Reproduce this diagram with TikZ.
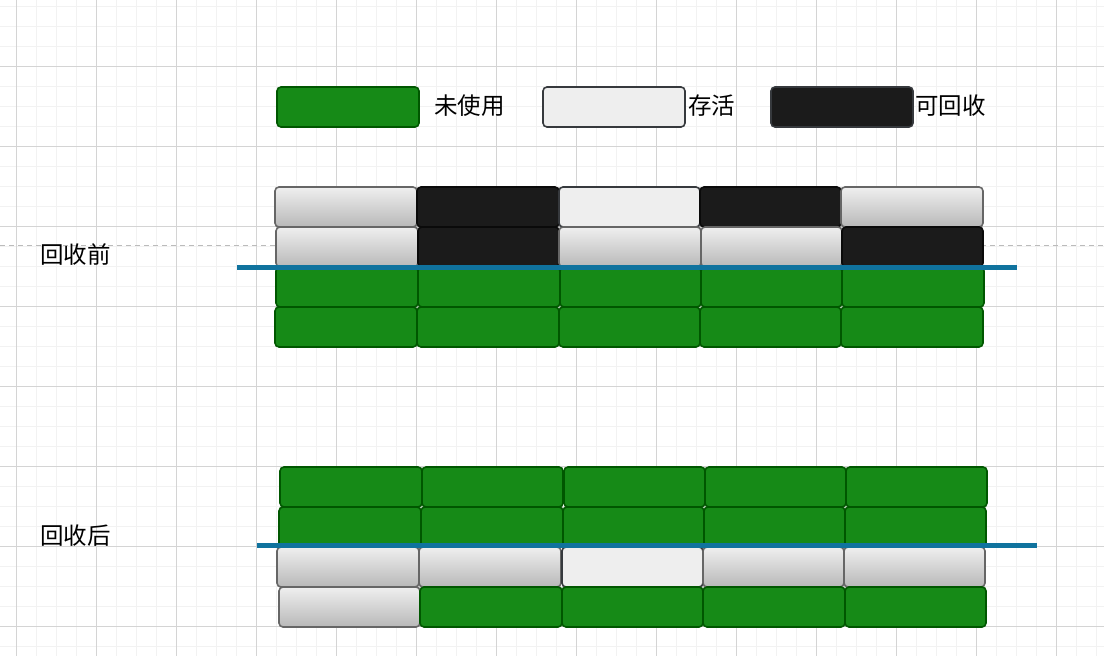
\documentclass[tikz,border=0pt]{standalone}
\usepackage{fontspec}
\setmainfont{Noto Sans CJK SC}
\definecolor{gfill}{HTML}{168A17}
\definecolor{gline}{HTML}{005700}
\definecolor{kfill}{HTML}{1B1B1B}
\definecolor{kline}{HTML}{0A0A0A}
\definecolor{lfill}{HTML}{EEEEEE}
\definecolor{lline}{HTML}{36393D}
\definecolor{gtop}{HTML}{EFEFEF}
\definecolor{gbot}{HTML}{B8B8B8}
\definecolor{gradline}{HTML}{666666}
\definecolor{blueline}{HTML}{10739E}
\definecolor{minorgrid}{HTML}{F2F2F2}
\definecolor{majorgrid}{HTML}{D4D4D4}
\definecolor{dashgrey}{HTML}{BBBBBB}
\tikzset{
  cell/.style={rectangle, rounded corners=4pt, line width=1.6pt, anchor=north west, minimum height=40pt, inner sep=0pt, outer sep=0pt},
  greenbox/.style={cell, fill=gfill, draw=gline},
  blackbox/.style={cell, fill=kfill, draw=kline},
  lightbox/.style={cell, fill=lfill, draw=lline},
  gradbox/.style={cell, top color=gtop, bottom color=gbot, draw=gradline},
  lbl/.style={font=\fontsize{23.5}{28}\selectfont, anchor=west, inner sep=0pt},
  sepline/.style={draw=blueline, line width=5pt},
  dashline/.style={draw=dashgrey, line width=1pt, dash pattern=on 5pt off 4pt},
}
\begin{document}
\begin{tikzpicture}[x=1pt,y=-1pt]
\useasboundingbox (0,0) rectangle (1104,656);
\fill[white] (0,0) rectangle (1104,656);
% grid
\foreach \x in {-4,16,...,1104} \draw[minorgrid, line width=0.8pt] (\x,0) -- (\x,656);
\foreach \y in {6,26,...,656} \draw[minorgrid, line width=0.8pt] (0,\y) -- (1104,\y);
\foreach \x in {16,96,...,1104} \draw[majorgrid, line width=0.8pt] (\x,0) -- (\x,656);
\foreach \y in {66,146,...,656} \draw[majorgrid, line width=0.8pt] (0,\y) -- (1104,\y);
% dashed line
\coordinate (dA) at (0,245);
\coordinate (dB) at (1104,245);
\draw[dashline] (dA) -- (dB);
% legend
\node[greenbox, minimum width=142pt] (legG) at (277,87) {};
\node[lbl] (legGt) at (434,106) {未使用};
\node[lightbox, minimum width=142pt] (legL) at (543,87) {};
\node[lbl] (legLt) at (688,106) {存活};
\node[blackbox, minimum width=142pt, draw=lline] (legK) at (771,87) {};
\node[lbl] (legKt) at (915,106) {可回收};
% labels
\node[lbl] (before) at (40,255) {回收前};
\node[lbl] (after) at (40,536) {回收后};
% top section row 1
\node[gradbox, minimum width=142pt] (t11) at (275,187) {};
\node[blackbox, minimum width=142pt] (t12) at (417,187) {};
\node[lightbox, minimum width=141pt] (t13) at (559,187) {};
\node[blackbox, minimum width=141pt] (t14) at (700,187) {};
\node[gradbox, minimum width=142pt] (t15) at (841,187) {};
% row 2
\node[gradbox, minimum width=142pt] (t21) at (276,227) {};
\node[blackbox, minimum width=141pt] (t22) at (418,227) {};
\node[gradbox, minimum width=142pt] (t23) at (559,227) {};
\node[gradbox, minimum width=141pt] (t24) at (701,227) {};
\node[blackbox, minimum width=141pt] (t25) at (842,227) {};
% row 3
\node[greenbox, minimum width=142pt] (t31) at (276,267) {};
\node[greenbox, minimum width=142pt] (t32) at (418,267) {};
\node[greenbox, minimum width=141pt] (t33) at (560,267) {};
\node[greenbox, minimum width=141pt] (t34) at (701,267) {};
\node[greenbox, minimum width=142pt] (t35) at (842,267) {};
% row 4
\node[greenbox, minimum width=142pt] (t41) at (275,307) {};
\node[greenbox, minimum width=142pt] (t42) at (417,307) {};
\node[greenbox, minimum width=141pt] (t43) at (559,307) {};
\node[greenbox, minimum width=141pt] (t44) at (700,307) {};
\node[greenbox, minimum width=142pt] (t45) at (841,307) {};
% bottom section row 1
\node[greenbox, minimum width=142pt] (b11) at (280,467) {};
\node[greenbox, minimum width=141pt] (b12) at (422,467) {};
\node[greenbox, minimum width=141pt] (b13) at (564,467) {};
\node[greenbox, minimum width=141pt] (b14) at (705,467) {};
\node[greenbox, minimum width=141pt] (b15) at (846,467) {};
% row 2
\node[greenbox, minimum width=142pt] (b21) at (279,507) {};
\node[greenbox, minimum width=142pt] (b22) at (421,507) {};
\node[greenbox, minimum width=141pt] (b23) at (563,507) {};
\node[greenbox, minimum width=141pt] (b24) at (704,507) {};
\node[greenbox, minimum width=141pt] (b25) at (845,507) {};
% row 3
\node[gradbox, minimum width=142pt] (b31) at (277,547) {};
\node[gradbox, minimum width=142pt] (b32) at (419,547) {};
\node[lightbox, minimum width=141pt] (b33) at (562,547) {};
\node[gradbox, minimum width=141pt] (b34) at (703,547) {};
\node[gradbox, minimum width=141pt] (b35) at (844,547) {};
% row 4
\node[gradbox, minimum width=141pt] (b41) at (279,587) {};
\node[greenbox, minimum width=142pt] (b42) at (420,587) {};
\node[greenbox, minimum width=141pt] (b43) at (562,587) {};
\node[greenbox, minimum width=142pt] (b44) at (703,587) {};
\node[greenbox, minimum width=141pt] (b45) at (845,587) {};
% separator lines
\coordinate (s1a) at (237,267);
\coordinate (s1b) at (1017,267);
\draw[sepline] (s1a) -- (s1b);
\coordinate (s2a) at (257,545);
\coordinate (s2b) at (1037,545);
\draw[sepline] (s2a) -- (s2b);
\end{tikzpicture}
\end{document}
